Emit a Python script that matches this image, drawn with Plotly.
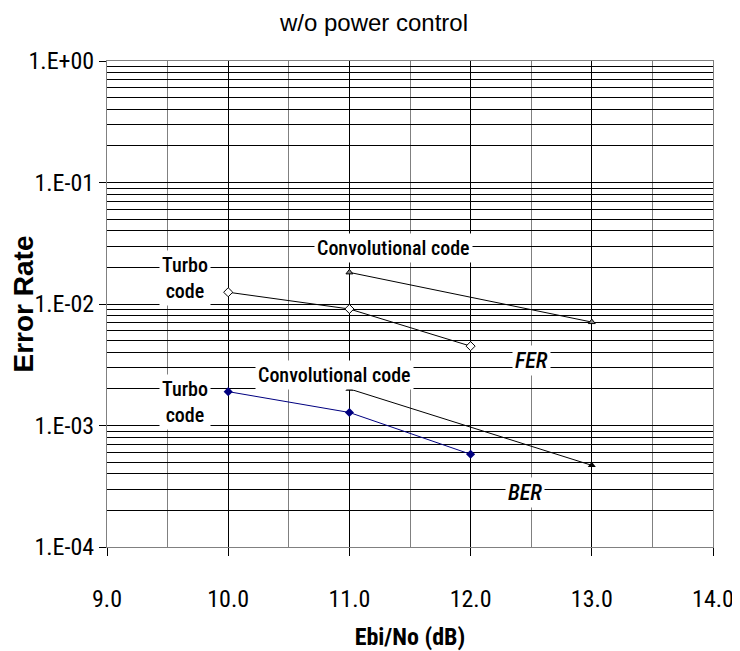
import plotly.graph_objects as go

ebno_turbo = [10.0, 11.0, 12.0]
ebno_conv = [11.0, 13.0]
fer_turbo = [0.0125, 0.0091, 0.0045]
fer_conv = [0.0182, 0.0071]
ber_turbo = [0.0019, 0.00128, 0.00058]
ber_conv = [0.0020, 0.00047]
y_tickvals = [1e-4, 1e-3, 1e-2, 1e-1, 1]
y_ticktext = ["1.E-04", "1.E-03", "1.E-02", "1.E-01", "1.E+00"]

FONT = "Roboto Condensed, Liberation Sans, Arial, sans-serif"
FONT_REG = "Liberation Sans, Arial, sans-serif"

fig = go.Figure()
fig.add_trace(go.Scatter(x=ebno_turbo, y=fer_turbo, mode="lines+markers",
                         line=dict(color="black", width=1),
                         marker=dict(symbol="diamond", size=7, color="white",
                                     line=dict(color="black", width=1))))
fig.add_trace(go.Scatter(x=ebno_conv, y=fer_conv, mode="lines+markers",
                         line=dict(color="black", width=1),
                         marker=dict(symbol="triangle-up", size=6, color="#888888",
                                     line=dict(color="black", width=1))))
fig.add_trace(go.Scatter(x=ebno_turbo, y=ber_turbo, mode="lines+markers",
                         line=dict(color="#000080", width=1),
                         marker=dict(symbol="diamond", size=7, color="#000080")))
fig.add_trace(go.Scatter(x=ebno_conv, y=ber_conv, mode="lines+markers",
                         line=dict(color="black", width=1),
                         marker=dict(symbol="triangle-up", size=7, color="black")))

ann_font = dict(family=FONT, size=20, color="black", weight=500)
ital_font = dict(family=FONT, size=22, color="black", weight=500)
anns = [
    dict(x=9.647, y=-1.786, text="Turbo<br>code"),
    dict(x=11.366, y=-1.539, text="Convolutional code"),
    dict(x=12.50, y=-2.467, text="<i>FER</i>", font=ital_font),
    dict(x=10.88, y=-2.588, text="Convolutional code"),
    dict(x=9.647, y=-2.808, text="Turbo<br>code"),
    dict(x=12.45, y=-3.549, text="<i>BER</i>", font=ital_font),
]
for a in anns:
    fig.add_annotation(x=a["x"], y=a["y"], xref="x", yref="y", text=a["text"],
                       showarrow=False, bgcolor="white", borderpad=2,
                       font=a.get("font", ann_font))

fig.update_layout(
    width=732, height=643,
    margin=dict(l=99, r=27, t=53, b=104),
    paper_bgcolor="white", plot_bgcolor="white",
    showlegend=False,
    title=dict(text="w/o power control", x=0.5, xanchor="center", y=0.978, yanchor="middle",
               font=dict(family=FONT_REG, size=24, color="black")),
    font=dict(family=FONT, color="black"),
)
fig.update_xaxes(range=[9, 14], dtick=1, tick0=9, tickformat=".1f", automargin=False,
                 showgrid=True, gridcolor="black", gridwidth=1,
                 minor=dict(dtick=0.5, showgrid=True, gridcolor="#808080", gridwidth=1),
                 ticks="outside", ticklen=8, tickcolor="black", ticklabelstandoff=22,
                 showline=True, linecolor="#808080", mirror=True, zeroline=False,
                 tickfont=dict(size=24, family=FONT),
                 title=dict(text="<b>Ebi/No (dB)</b>", font=dict(size=24, family=FONT), standoff=16))
fig.update_yaxes(type="log", range=[-4, 0], tickvals=y_tickvals, ticktext=y_ticktext,
                 automargin=False,
                 showgrid=True, gridcolor="black", gridwidth=1,
                 minor=dict(dtick="D1", showgrid=True, gridcolor="black", gridwidth=1),
                 ticks="outside", ticklen=7, tickcolor="black",
                 showline=True, linecolor="#808080", mirror=True, zeroline=False,
                 tickfont=dict(size=24, family=FONT),
                 title=dict(text="<b>Error Rate</b>", font=dict(size=28, family=FONT_REG), standoff=6))

fig.write_html("out.html")
